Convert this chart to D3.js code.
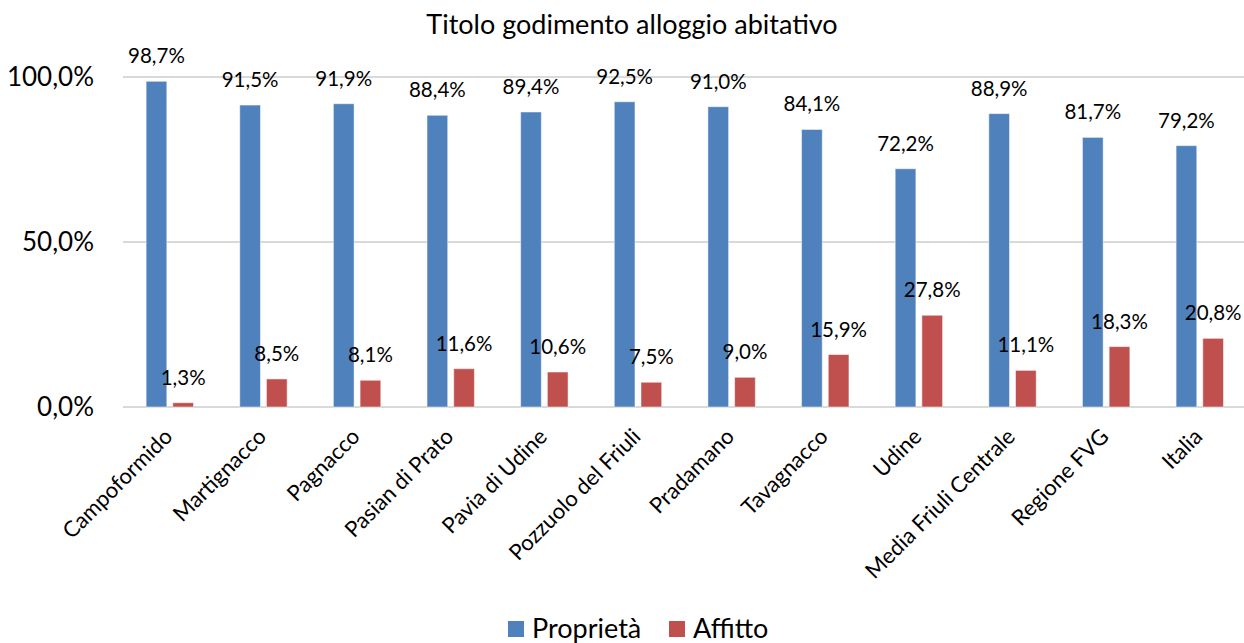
<!DOCTYPE html>
<html>
<head>
<meta charset="utf-8">
<script src="https://cdn.jsdelivr.net/npm/d3@7"></script>
<style>
  body { margin: 0; background: #fff; }
  text { font-family: Lato, "Open Sans", sans-serif; fill: #000; }
</style>
</head>
<body>
<div id="chart"></div>
<script>
// chart data
const comuni = ['Campoformido', 'Martignacco', 'Pagnacco', 'Pasian di Prato', 'Pavia di Udine',
  'Pozzuolo del Friuli', 'Pradamano', 'Tavagnacco', 'Udine', 'Media Friuli Centrale', 'Regione FVG', 'Italia'];
const proprieta = [98.7, 91.5, 91.9, 88.4, 89.4, 92.5, 91.0, 84.1, 72.2, 88.9, 81.7, 79.2];
const affitto = [1.3, 8.5, 8.1, 11.6, 10.6, 7.5, 9.0, 15.9, 27.8, 11.1, 18.3, 20.8];
const yTicks = [0, 50, 100];
const seriesNames = ['Proprietà', 'Affitto'];
const colors = ['#4F81BD', '#C0504D'];

let width = 1244, height = 643;
let svg = d3.select('#chart').append('svg')
  .attr('width', width)
  .attr('height', height);

let x = d3.scaleBand()
  .domain(comuni)
  .range([123, 1246.6]);

let y = d3.scaleLinear()
  .domain([0, 100])
  .range([407, 77]);

let fmt = v => d3.format('.1f')(v).replace('.', ',') + '%';

// title
svg.append('text')
  .attr('x', 632)
  .attr('y', 34)
  .attr('text-anchor', 'middle')
  .style('font-size', '27px')
  .text('Titolo godimento alloggio abitativo');

// gridlines
svg.selectAll('line.grid')
  .data(yTicks)
  .enter()
  .append('line')
  .attr('x1', 123)
  .attr('x2', width)
  .attr('y1', d => y(d))
  .attr('y2', d => y(d))
  .attr('stroke', '#d9d9d9')
  .attr('stroke-width', 2);

// y labels
svg.selectAll('text.ylab')
  .data(yTicks)
  .enter()
  .append('text')
  .attr('x', 94)
  .attr('y', d => y(d))
  .attr('dy', '0.36em')
  .attr('text-anchor', 'end')
  .style('font-size', '26px')
  .text(fmt);

// bars
let barW = 20.7, gap = 6;
let series = [proprieta, affitto];
series.forEach((vals, s) => {
  let offset = s === 0 ? -gap / 2 - barW : gap / 2;
  let g = svg.append('g');
  g.selectAll('rect')
    .data(vals)
    .enter()
    .append('rect')
    .attr('x', (d, i) => x(comuni[i]) + x.bandwidth() / 2 + offset)
    .attr('y', d => y(d))
    .attr('width', barW)
    .attr('height', d => y(0) - y(d))
    .attr('fill', colors[s])
    .attr('stroke', '#fff')
    .attr('stroke-opacity', 0.5)
    .attr('stroke-width', 1);
  g.selectAll('text')
    .data(vals)
    .enter()
    .append('text')
    .attr('x', (d, i) => x(comuni[i]) + x.bandwidth() / 2 + offset + barW / 2)
    .attr('y', d => y(d) - 18)
    .attr('text-anchor', 'middle')
    .style('font-size', '20.5px')
    .text(fmt);
});

// x labels
svg.selectAll('text.xlab')
  .data(comuni)
  .enter()
  .append('text')
  .attr('text-anchor', 'end')
  .attr('transform', d => `translate(${x(d) + x.bandwidth() / 2 + 4},${438}) rotate(-45)`)
  .style('font-size', '22px')
  .text(d => d);

// legend
let legend = svg.append('g');
let legX = [508, 669];
seriesNames.forEach((name, i) => {
  legend.append('rect')
    .attr('x', legX[i])
    .attr('y', 621)
    .attr('width', 16)
    .attr('height', 16)
    .attr('fill', colors[i]);
  legend.append('text')
    .attr('x', legX[i] + 24)
    .attr('y', 638)
    .style('font-size', '27px')
    .text(name);
});
</script>
</body>
</html>
